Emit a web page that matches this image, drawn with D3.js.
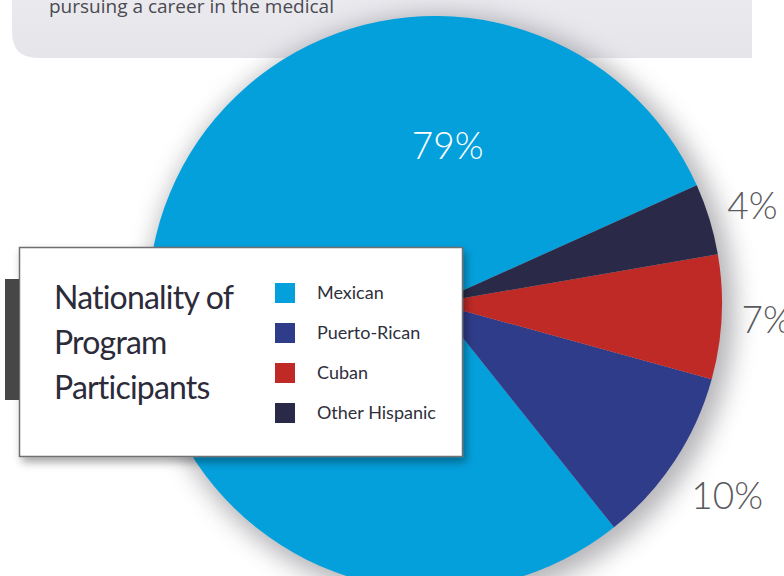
<!DOCTYPE html>
<html>
<head>
<meta charset="utf-8">
<script src="https://cdn.jsdelivr.net/npm/d3@7/dist/d3.min.js"></script>
<style>
  html, body { margin: 0; padding: 0; background: #ffffff; }
  svg { display: block; }
</style>
</head>
<body>
<script>
// Nationality breakdown of program participants
const categories = ["Mexican", "Puerto-Rican", "Cuban", "Other Hispanic"];
const shares = [79, 10, 7, 4];
const valueLabels = ["79%", "10%", "7%", "4%"];
const colors = ["#04a0dc", "#2f3c89", "#bf2a27", "#2a2a48"];
const titleLines = ["Nationality of", "Program", "Participants"];
const introText = "pursuing a career in the medical";

const W = 784, H = 576;
const svg = d3.select("body").append("svg").attr("width", W).attr("height", H);
const defs = svg.append("defs");

// soft halo behind the pie
defs.append("filter").attr("id", "halo").attr("x", "-30%").attr("y", "-30%")
  .attr("width", "160%").attr("height", "160%")
  .append("feGaussianBlur").attr("stdDeviation", 12);

// drop shadow for the legend card
const ds = defs.append("filter").attr("id", "cardShadow")
  .attr("x", "-10%").attr("y", "-10%").attr("width", "130%").attr("height", "140%");
ds.append("feDropShadow").attr("dx", 3).attr("dy", 5).attr("stdDeviation", 4)
  .attr("flood-color", "#000").attr("flood-opacity", 0.35);

// intro panel at the top
const panelGrad = defs.append("linearGradient").attr("id", "panelGrad")
  .attr("x1", 0).attr("y1", 0).attr("x2", 0).attr("y2", 1);
panelGrad.append("stop").attr("offset", "0%").attr("stop-color", "#ebeaef");
panelGrad.append("stop").attr("offset", "100%").attr("stop-color", "#e6e5ea");

const pr = 26, px0 = 12, px1 = 752, py1 = 58;
svg.append("path")
  .attr("d", `M${px0},-10 L${px1},-10 L${px1},${py1} L${px0 + pr},${py1} Q${px0},${py1} ${px0},${py1 - pr} Z`)
  .attr("fill", "url(#panelGrad)");

svg.append("text")
  .attr("x", 49).attr("y", 13)
  .attr("font-family", "'Open Sans', 'Noto Sans', sans-serif")
  .attr("font-size", 19)
  .attr("fill", "#4a4a52")
  .text(introText);

// pie geometry
const cx = 435, cy = 303, R = 287;
const a0 = 65.8 * Math.PI / 180;
const pie = d3.pie().sort(null).value(d => d).startAngle(a0).endAngle(a0 - 2 * Math.PI);
const arcs = pie(shares);
const arc = d3.arc().innerRadius(0).outerRadius(R);

const g = svg.append("g").attr("transform", `translate(${cx},${cy})`);

g.append("circle").attr("cx", 6).attr("cy", 6).attr("r", R + 7)
  .attr("fill", "#85858c").attr("opacity", 0.6).attr("filter", "url(#halo)");

g.selectAll("path.slice").data(arcs).join("path")
  .attr("class", "slice")
  .attr("d", arc)
  .attr("fill", (d, i) => colors[i]);

// value labels: small slices outside, the large one inside near the top
const labelRadius = [0, 350, 332, 332];
g.selectAll("text.value").data(arcs).join("text")
  .attr("class", "value")
  .attr("transform", (d, i) => {
    if (i === 0) {
      const ang = 4.6 * Math.PI / 180, rr = 158;
      return `translate(${rr * Math.sin(ang)},${-rr * Math.cos(ang)})`;
    }
    const p = d3.arc().innerRadius(labelRadius[i]).outerRadius(labelRadius[i]).centroid(d);
    return `translate(${p[0]},${p[1]})`;
  })
  .attr("text-anchor", "middle")
  .attr("dy", "0.36em")
  .attr("font-family", "Lato, 'Open Sans', sans-serif")
  .attr("font-weight", 300)
  .attr("font-size", 37)
  .attr("fill", (d, i) => i === 0 ? "#ffffff" : "#5a5a5e")
  .text((d, i) => valueLabels[i]);

// legend card
svg.append("rect")
  .attr("x", 19.5).attr("y", 247.5).attr("width", 443).attr("height", 209)
  .attr("fill", "#ffffff").attr("stroke", "#6f6f73").attr("stroke-width", 1.5)
  .attr("filter", "url(#cardShadow)");

svg.append("rect").attr("x", 5).attr("y", 279).attr("width", 14).attr("height", 121)
  .attr("fill", "#474747");

const title = svg.append("text")
  .attr("font-family", "Lato, 'Noto Sans', sans-serif")
  .attr("font-size", 32)
  .attr("letter-spacing", -0.8)
  .attr("fill", "#2b2b3a");
titleLines.forEach((t, i) => {
  title.append("tspan").attr("x", 54).attr("y", 309 + i * 45).text(t);
});

const legend = svg.append("g").attr("transform", "translate(275,283)");
const rows = legend.selectAll("g").data(categories).join("g")
  .attr("transform", (d, i) => `translate(0,${i * 40})`);
rows.append("rect").attr("width", 20).attr("height", 20).attr("fill", (d, i) => colors[i]);
rows.append("text")
  .attr("x", 42).attr("y", 16)
  .attr("font-family", "Lato, 'Noto Sans', sans-serif")
  .attr("font-size", 18)
  .attr("fill", "#2f2f3c")
  .text(d => d);
</script>
</body>
</html>
